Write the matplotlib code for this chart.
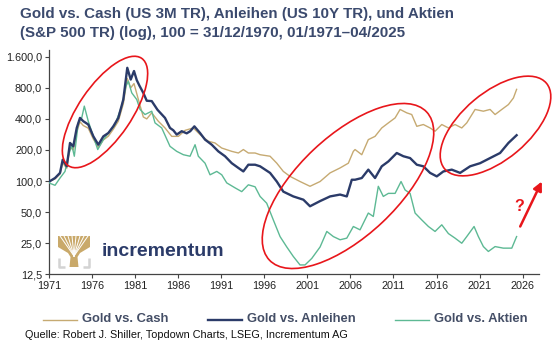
import matplotlib
matplotlib.use("Agg")
import matplotlib.pyplot as plt
from matplotlib.patches import Ellipse, Polygon, FancyArrowPatch
from matplotlib.lines import Line2D
from matplotlib.ticker import FixedLocator, NullLocator

plt.rcParams['font.family'] = ['Liberation Sans', 'DejaVu Sans']

# Gold vs. Anleihen (US 10Y TR)
bonds_years = [1971.0, 1971.12, 1971.70, 1972.28, 1972.59, 1973.06, 1973.44, 1973.82, 1974.22,
               1974.60, 1974.98, 1975.56, 1976.15, 1976.73, 1977.31, 1977.89, 1978.47, 1979.05,
               1979.63, 1980.09, 1980.49, 1980.87, 1981.19, 1981.50, 1981.95, 1982.35, 1982.93,
               1983.60, 1984.47, 1985.05, 1985.44, 1985.83, 1986.41, 1986.99, 1987.40, 1987.88,
               1988.54, 1989.12, 1989.90, 1990.66, 1991.44, 1992.22, 1992.99, 1993.57, 1994.15,
               1994.93, 1995.51, 1996.67, 1997.45, 1998.21, 1999.37, 2000.54, 2001.31, 2002.48,
               2003.64, 2004.80, 2005.58, 2006.16, 2006.54, 2007.32, 2008.08, 2008.86, 2009.64,
               2010.41, 2011.38, 2012.15, 2012.93, 2013.71, 2014.47, 2015.25, 2016.03, 2016.80,
               2017.77, 2018.74, 2019.90, 2021.06, 2022.22, 2023.38, 2024.35, 2025.30]
bonds_values = [100, 100, 107, 120, 161, 139, 234, 217, 327,
                409, 380, 353, 271, 225, 271, 292, 339, 409,
                616, 1250, 962, 1164, 950, 840, 715, 600, 595,
                490, 409, 327, 310, 282, 304, 290, 304, 339,
                292, 252, 225, 194, 174, 149, 134, 124, 144,
                144, 139, 120, 99, 79, 71, 66, 57, 64,
                71, 74, 71, 103, 103, 107, 129, 107, 139,
                155, 187, 174, 167, 144, 139, 120, 111, 124,
                129, 120, 139, 149, 167, 187, 234, 278]

# Gold vs. Cash (US 3M TR)
cash_years = [1971.0, 1971.12, 1971.70, 1972.28, 1972.59, 1973.06, 1973.44, 1973.82, 1974.22,
              1974.60, 1974.98, 1975.56, 1976.15, 1976.73, 1977.31, 1977.89, 1978.47, 1979.05,
              1979.63, 1980.09, 1980.49, 1980.87, 1981.37, 1981.95, 1982.35, 1982.93, 1983.69,
              1984.47, 1985.25, 1986.02, 1986.80, 1987.76, 1988.54, 1989.50, 1990.27, 1991.05,
              1992.22, 1992.99, 1993.57, 1994.15, 1994.93, 1995.51, 1996.67, 1997.45, 1998.21,
              1998.99, 2000.15, 2001.31, 2002.48, 2003.64, 2004.80, 2005.76, 2006.34, 2006.54,
              2007.32, 2008.08, 2008.86, 2009.64, 2010.41, 2011.19, 2011.77, 2012.54, 2013.12,
              2013.71, 2014.47, 2015.25, 2015.83, 2016.61, 2017.38, 2018.15, 2018.93, 2019.51,
              2020.48, 2021.44, 2022.22, 2022.80, 2023.58, 2024.35, 2024.93, 2025.30]
cash_values = [100, 100, 105, 117, 150, 133, 212, 200, 300,
               375, 345, 325, 255, 212, 250, 272, 318, 380,
               560, 985, 800, 880, 620, 418, 400, 458, 380,
               327, 271, 271, 310, 327, 282, 243, 234, 209,
               194, 187, 202, 187, 187, 180, 174, 149, 124,
               111, 99, 89, 99, 120, 134, 149, 194, 202,
               180, 252, 271, 327, 366, 409, 494, 458, 441,
               339, 353, 327, 304, 353, 327, 353, 327, 366,
               494, 475, 494, 441, 494, 551, 638, 773]

# Gold vs. Aktien (S&P 500 TR)
stocks_years = [1971.0, 1971.12, 1971.70, 1972.28, 1972.86, 1973.24, 1973.64, 1973.94, 1974.40,
                1974.80, 1975.10, 1975.56, 1976.15, 1976.66, 1977.31, 1978.08, 1978.67, 1979.44,
                1979.94, 1980.21, 1980.61, 1981.19, 1981.57, 1982.15, 1982.93, 1983.31, 1984.09,
                1985.05, 1985.83, 1986.60, 1987.38, 1987.96, 1988.34, 1989.12, 1989.70, 1990.48,
                1991.06, 1991.64, 1992.60, 1993.38, 1994.15, 1994.93, 1995.51, 1996.28, 1997.05,
                1997.83, 1998.61, 1999.37, 2000.15, 2000.73, 2001.51, 2002.48, 2003.26, 2004.02,
                2004.80, 2005.58, 2006.34, 2007.12, 2008.08, 2008.66, 2009.24, 2009.82, 2010.41,
                2011.19, 2011.88, 2012.35, 2012.93, 2013.51, 2014.29, 2015.06, 2015.83, 2016.61,
                2017.38, 2018.15, 2018.93, 2019.51, 2020.36, 2020.86, 2021.44, 2022.02, 2022.80,
                2023.76, 2024.74, 2025.30]
stocks_values = [100, 95, 91, 107, 124, 174, 225, 174, 366,
                 409, 532, 380, 271, 202, 252, 304, 353, 532,
                 830, 928, 715, 616, 494, 441, 475, 366, 327,
                 217, 194, 180, 174, 225, 174, 149, 115, 124,
                 115, 96, 86, 79, 92, 88, 71, 61, 42,
                 29, 23, 18.6, 15.4, 15.4, 17.8, 23, 32.5, 29,
                 27, 28, 36.3, 33.7, 49, 45.4, 89, 71, 76,
                 76, 99, 82, 76, 49, 42, 36.3, 32.5, 37.7,
                 31, 28, 25, 29, 36.3, 29, 23.2, 20.8, 23.2,
                 22.4, 22.4, 29]

series_labels = ["Gold vs. Cash", "Gold vs. Anleihen", "Gold vs. Aktien"]
year_ticks = list(range(1971, 2027, 5))
value_ticks = [12.5, 25, 50, 100, 200, 400, 800, 1600]
value_tick_labels = ["12,5", "25,0", "50,0", "100,0", "200,0", "400,0", "800,0", "1.600,0"]

c_cash = "#C6AA72"
c_bonds = "#2B3B69"
c_stocks = "#5DB994"
c_red = "#E8161B"
c_title = "#3B4A6E"

W, H = 555, 349
fig = plt.figure(figsize=(W / 100, H / 100), dpi=100)
fig.patch.set_facecolor("white")


def px(x, y):
    # pixel position (origin top-left) -> inches for dpi_scale_trans
    return (x / 100, (H - y) / 100)


ax = fig.add_axes([49 / W, 1 - 274.3 / H, 490 / W, 224.3 / H])
ax.set_yscale("log", base=2)
ax.set_xlim(1971, 2027.9)
ax.set_ylim(12.5, 1860)

ax.plot(cash_years, cash_values, color=c_cash, lw=1.0, zorder=3)
ax.plot(stocks_years, stocks_values, color=c_stocks, lw=1.0, zorder=3)
ax.plot(bonds_years, bonds_values, color=c_bonds, lw=1.7, zorder=4)

ax.yaxis.set_major_locator(FixedLocator(value_ticks))
ax.yaxis.set_minor_locator(NullLocator())
ax.set_yticklabels(value_tick_labels)
ax.set_xticks(year_ticks)
ax.set_xticklabels([str(y) for y in year_ticks])
ax.tick_params(axis="both", direction="out", length=3, width=0.8, color="#444444",
               labelsize=7.8, labelcolor="#222222", pad=2)

for side in ("top", "right"):
    ax.spines[side].set_visible(False)
for side in ("left", "bottom"):
    ax.spines[side].set_color("#444444")
    ax.spines[side].set_linewidth(0.9)

# title
fig.text(20 / W, 1 - 18 / H, "Gold vs. Cash (US 3M TR), Anleihen (US 10Y TR), und Aktien",
         fontsize=10.9, fontweight="bold", color=c_title, va="baseline")
fig.text(20 / W, 1 - 36.5 / H, "(S&P 500 TR) (log), 100 = 31/12/1970, 01/1971\u201304/2025",
         fontsize=10.9, fontweight="bold", color=c_title, va="baseline")

# red ellipses and arrow
tr = fig.dpi_scale_trans
for cx, cy, w, h, ang in [(105, 112, 130, 53, 55.7),
                          (348, 186, 216, 100, 43.3),
                          (495.5, 126, 133, 67, 40.0)]:
    e = Ellipse(px(cx, cy), w / 100, h / 100, angle=ang, transform=tr,
                fill=False, edgecolor=c_red, lw=1.2, clip_on=False, zorder=6)
    fig.add_artist(e)

arrow = FancyArrowPatch(px(519, 229), px(543, 179), transform=tr,
                        arrowstyle="-|>", mutation_scale=13, color=c_red, lw=1.8)
fig.add_artist(arrow)
fig.text(519 / W, 1 - 206 / H, "?", fontsize=11.5, fontweight="bold", color=c_red,
         ha="center", va="center")

# incrementum logo
gold = "#C9A96A"
tree = Polygon([px(58, 236), px(90, 236), px(90, 247), px(80, 253), px(77.5, 257),
                px(78.5, 267), px(69.5, 267), px(70.5, 257), px(68, 253), px(58, 247)],
               closed=True, transform=tr, facecolor=gold, edgecolor="none")
fig.add_artist(tree)
for tx in [60, 64, 68, 72, 76, 80, 84, 88]:
    x0, y0 = px(74, 256)
    x1, y1 = px(tx, 236)
    fig.add_artist(Line2D([x0, x1], [y0, y1], transform=tr, color="white", lw=0.7))
for xs, ys in [([59, 59, 65], [258, 266.5, 266.5]), ([89, 89, 83], [258, 266.5, 266.5])]:
    pts = [px(a, b) for a, b in zip(xs, ys)]
    fig.add_artist(Line2D([p[0] for p in pts], [p[1] for p in pts], transform=tr,
                          color="#D3D3D3", lw=1.8, solid_capstyle="butt"))
fig.text(102 / W, 1 - 252 / H, "incrementum", fontsize=14, fontweight="bold",
         color=c_bonds, va="center")

# legend
for x0, label, col, lw in [(43, series_labels[0], c_cash, 1.0),
                           (208, series_labels[1], c_bonds, 1.7),
                           (395, series_labels[2], c_stocks, 1.0)]:
    a, b = px(x0, 319.5)
    c, d = px(x0 + 34, 319.5)
    fig.add_artist(Line2D([a, c], [b, d], transform=tr, color=col, lw=lw))
    fig.text((x0 + 39) / W, 1 - 319.5 / H, label, fontsize=9.4, fontweight="bold",
             color="#444E66", va="center")

fig.text(25 / W, 1 - 335 / H, "Quelle: Robert J. Shiller, Topdown Charts, LSEG, Incrementum AG",
         fontsize=7.8, color="#111111", va="center")

fig.savefig("out.png", dpi=100)
